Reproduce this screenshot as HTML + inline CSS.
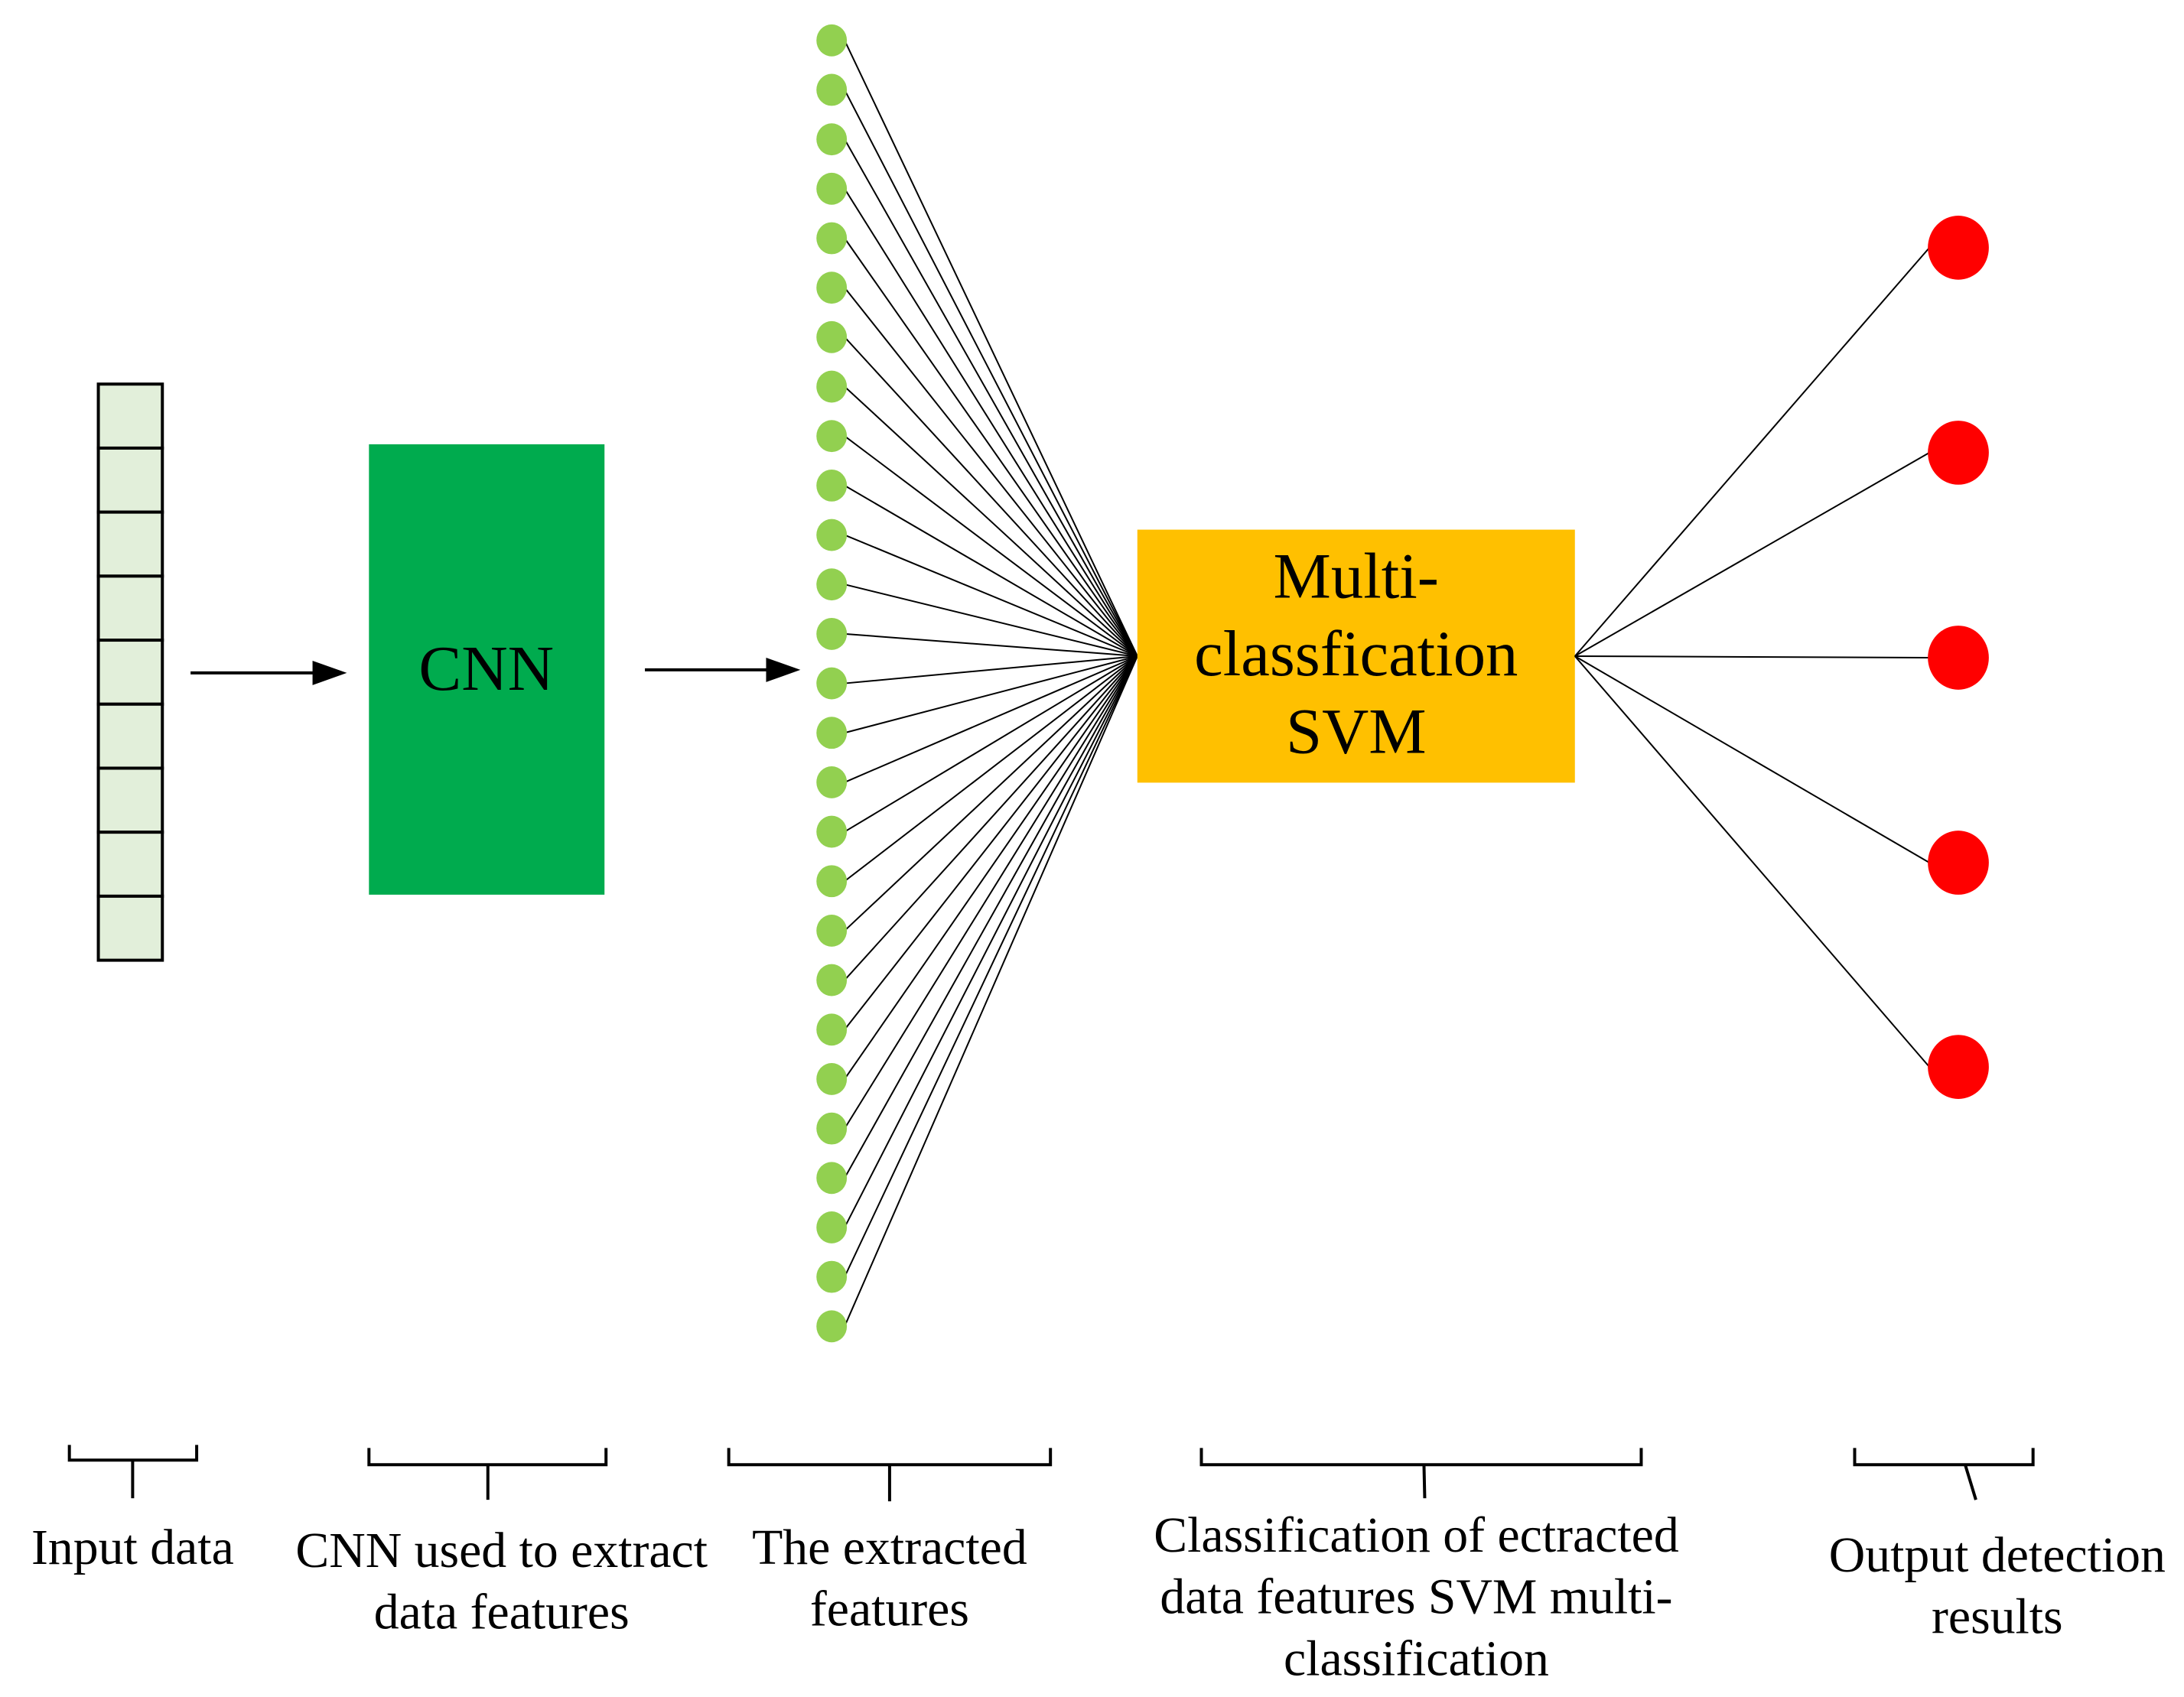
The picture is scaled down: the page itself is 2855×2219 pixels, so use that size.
<!DOCTYPE html>
<html><head><meta charset="utf-8"><style>html,body{margin:0;padding:0;background:#fff}svg{display:block}</style></head>
<body>
<svg xmlns="http://www.w3.org/2000/svg" width="2855" height="2219" viewBox="0 0 2855 2219" font-family="Liberation Serif, serif">
<rect width="2855" height="2219" fill="#fff"/>
<g transform="scale(0.9965)">
<g fill="#e2efda" stroke="#000" stroke-width="4">
<rect x="129" y="504" width="84" height="84"/><rect x="129" y="588" width="84" height="84"/><rect x="129" y="672" width="84" height="84"/>
<rect x="129" y="756" width="84" height="84"/><rect x="129" y="840" width="84" height="84"/><rect x="129" y="924" width="84" height="84"/>
<rect x="129" y="1008" width="84" height="84"/><rect x="129" y="1092" width="84" height="84"/><rect x="129" y="1176" width="84" height="84"/>
</g>
<line x1="250" y1="883" x2="415" y2="883" stroke="#000" stroke-width="4"/>
<polygon points="410,867 455,883 410,899" fill="#000"/>
<line x1="846" y1="879" x2="1010" y2="879" stroke="#000" stroke-width="4"/>
<polygon points="1005,863 1050,879 1005,895" fill="#000"/>
<rect x="484" y="583" width="309" height="591" fill="#00ab4e"/>
<text x="638" y="905" font-size="84" text-anchor="middle">CNN</text>
<g id="fan" stroke="#000" stroke-width="2"></g>
<g id="dots" fill="#92d050"></g>
<rect x="1492" y="695" width="574" height="332" fill="#ffc000"/>
<text x="1779" y="784" font-size="85" text-anchor="middle">Multi-</text>
<text x="1779" y="886" font-size="85" text-anchor="middle">classfication</text>
<text x="1779" y="988" font-size="85" text-anchor="middle">SVM</text>
<g stroke="#000" stroke-width="2">
<line x1="2066" y1="861" x2="2531" y2="325"/>
<line x1="2066" y1="861" x2="2531" y2="594"/>
<line x1="2066" y1="861" x2="2531" y2="863"/>
<line x1="2066" y1="861" x2="2531" y2="1132"/>
<line x1="2066" y1="861" x2="2531" y2="1400"/>
</g>
<g fill="#ff0000">
<ellipse cx="2569" cy="325" rx="40" ry="42"/><ellipse cx="2569" cy="594" rx="40" ry="42"/>
<ellipse cx="2569" cy="863" rx="40" ry="42"/><ellipse cx="2569" cy="1132" rx="40" ry="42"/>
<ellipse cx="2569" cy="1400" rx="40" ry="42"/>
</g>
<g stroke="#000" stroke-width="4" fill="none">
<polyline points="91,1896 91,1916 258,1916 258,1896"/><line x1="174" y1="1916" x2="174" y2="1966"/>
<polyline points="484,1900 484,1922 795,1922 795,1900"/><line x1="640" y1="1922" x2="640" y2="1968"/>
<polyline points="956,1900 956,1922 1378,1922 1378,1900"/><line x1="1167" y1="1922" x2="1167" y2="1970"/>
<polyline points="1576,1900 1576,1922 2153,1922 2153,1900"/><line x1="1868" y1="1922" x2="1869" y2="1966"/>
<polyline points="2433,1900 2433,1922 2667,1922 2667,1900"/><line x1="2578" y1="1922" x2="2592" y2="1968"/>
</g>
<g font-size="66" text-anchor="middle" fill="#000">
<text x="174" y="2052">Input data</text>
<text x="658" y="2056">CNN used to extract</text>
<text x="658" y="2137">data features</text>
<text x="1167" y="2052">The extracted</text>
<text x="1167" y="2133">features</text>
<text x="1858" y="2036">Classification of ectracted</text>
<text x="1858" y="2117">data features SVM multi-</text>
<text x="1858" y="2198">classification</text>
<text x="2620" y="2062">Output detection</text>
<text x="2620" y="2143">results</text>
</g>
</g>
<script>
var ns="http://www.w3.org/2000/svg",f=document.getElementById("fan"),d=document.getElementById("dots");
for(var i=0;i<27;i++){var y=53+i*64.9;
var l=document.createElementNS(ns,"line");l.setAttribute("x1",1108);l.setAttribute("y1",y);l.setAttribute("x2",1492);l.setAttribute("y2",861);f.appendChild(l);
var c=document.createElementNS(ns,"ellipse");c.setAttribute("cx",1091);c.setAttribute("cy",y);c.setAttribute("rx",20);c.setAttribute("ry",21);d.appendChild(c);}
</script>
</svg>
</body></html>
